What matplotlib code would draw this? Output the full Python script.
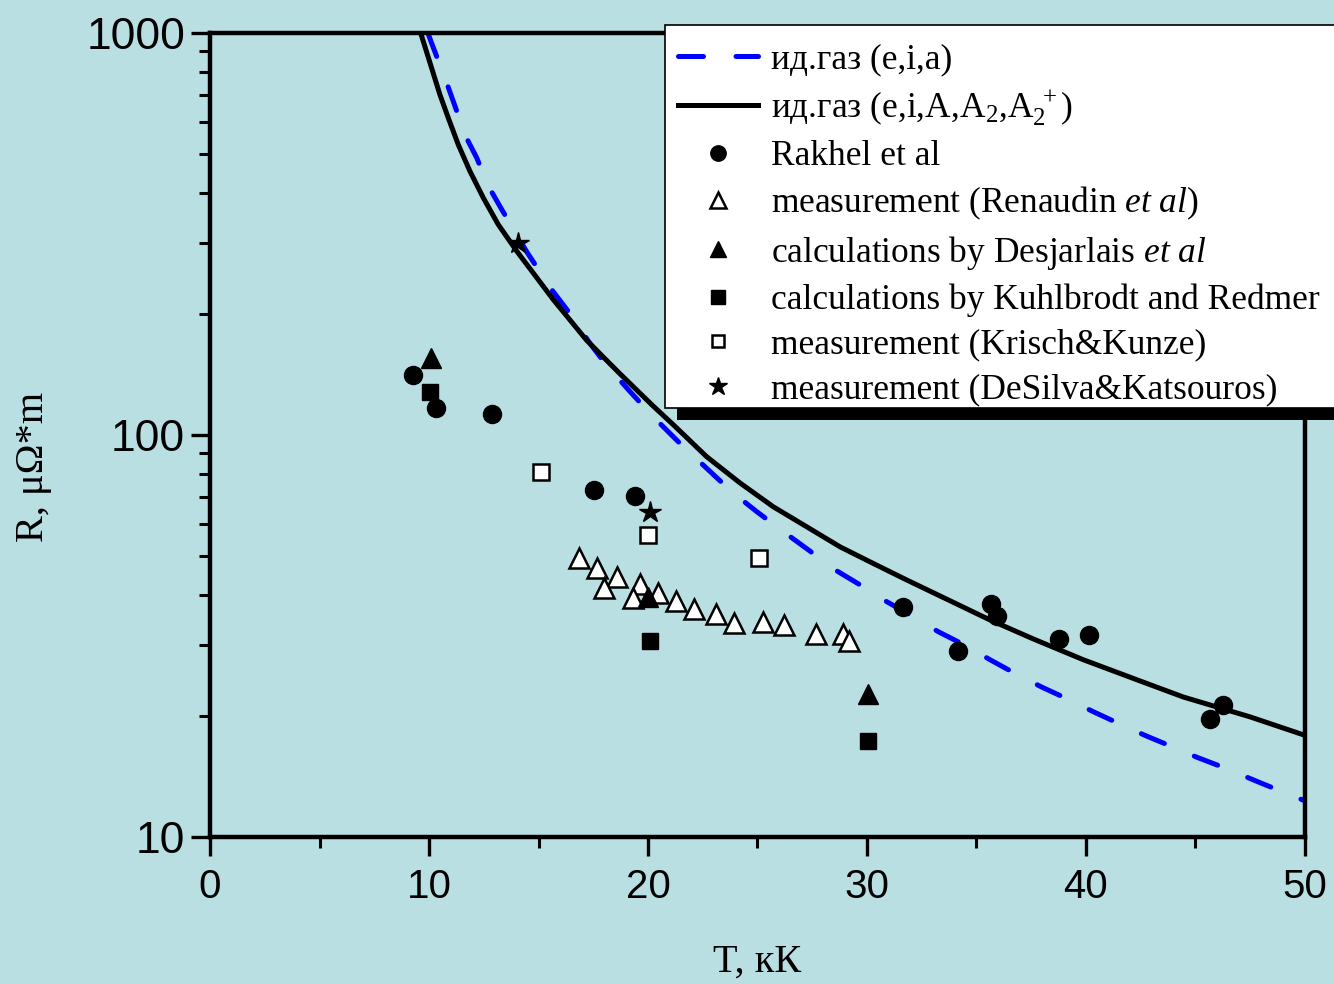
import matplotlib
matplotlib.use("Agg")
import matplotlib.pyplot as plt
from matplotlib.patches import Rectangle
from matplotlib.ticker import MultipleLocator, LogLocator, NullFormatter, FixedLocator, FixedFormatter
from matplotlib import font_manager

BG = '#badfe3'

# ---------------- data ----------------
# ideal gas (e,i,a) - dashed blue
T_gas1 = [9.95, 10.09, 10.81, 11.19, 11.64, 12.18, 12.71, 13.32, 14.49, 15.6, 16.36,
          17.35, 18.11, 19.25, 20.24, 21.46, 22.6, 23.82, 24.96, 26.18, 27.32, 28.54,
          29.68, 30.9, 32.12, 33.26, 34.47, 35.62, 36.83, 37.98, 39.19, 40.33, 41.55,
          42.69, 43.9, 45.05, 46.27, 48.02, 50.0]
R_gas1 = [1000, 953, 751, 657, 558, 489, 416, 364, 284, 230, 203,
          169, 149, 127, 111, 95.3, 83.4, 72.3, 64.5, 57.5, 51.8, 46.2,
          42.4, 38.5, 35.3, 32.4, 30.0, 27.6, 25.4, 23.6, 22.0, 20.5, 19.1,
          17.9, 16.8, 15.8, 14.9, 13.6, 12.3]
# ideal gas (e,i,A,A2,A2+) - solid black
T_gas2 = [9.62, 10.12, 10.50, 10.88, 11.34, 11.87, 12.48, 13.16, 14.0, 15.68, 17.2,
          18.72, 20.24, 21.16, 22.68, 24.2, 25.72, 27.25, 28.77, 30.29, 31.81, 33.79,
          35.6, 37.59, 39.88, 42.16, 44.44, 47.49, 50.0]
R_gas2 = [1000, 818, 702, 615, 527, 453, 389, 334, 287, 217, 172,
          142, 118, 106, 88.3, 76.0, 66.3, 59.1, 52.7, 47.9, 43.6, 38.7,
          34.7, 31.1, 27.6, 24.8, 22.3, 19.9, 17.9]

# Rakhel et al
T_rakhel = [9.27, 10.32, 12.88, 17.53, 19.41, 31.66, 34.17, 35.65, 35.95, 38.78, 40.15, 46.27, 45.66]
R_rakhel = [141, 116.7, 112.8, 73, 70.5, 37.3, 29.0, 38.0, 35.5, 31.0, 31.8, 21.3, 19.7]

# Renaudin et al (measurement)
T_renaudin = [16.86, 17.66, 18.57, 17.99, 19.63, 19.33, 20.44, 21.28, 22.12, 23.09,
              23.94, 25.27, 26.23, 27.66, 28.89, 29.19]
R_renaudin = [49.4, 46.6, 44.4, 41.7, 42.5, 39.4, 40.5, 38.7, 37.0, 35.8,
              34.0, 34.3, 33.7, 31.9, 31.9, 30.7]

# Desjarlais et al (calculations)
T_desj = [10.1, 20.0, 30.05]
R_desj = [155.5, 39.6, 22.7]

# Kuhlbrodt and Redmer (calculations)
T_kuhl = [10.05, 20.1, 30.05]
R_kuhl = [128, 30.7, 17.3]

# Krisch & Kunze (measurement)
T_krisch = [15.1, 20.0, 25.07]
R_krisch = [80.9, 56.4, 49.4]

# DeSilva & Katsouros (measurement)
T_desilva = [14.06, 20.1]
R_desilva = [300, 64.3]

x_ticks = [0, 10, 20, 30, 40, 50]
y_ticks = [10, 100, 1000]
y_ticklabels = ['10', '100', '1000']

labels = ['ид.газ (e,i,a)',
          'ид.газ (e,i,A,A$_2$,A$_2^{\\ +}$)',
          'Rakhel et al',
          'measurement (Renaudin $\\mathit{et\\ al}$)',
          'calculations by Desjarlais $\\mathit{et\\ al}$',
          'calculations by Kuhlbrodt and Redmer',
          'measurement (Krisch&Kunze)',
          'measurement (DeSilva&Katsouros)']

# ---------------- style ----------------
plt.rcParams['mathtext.fontset'] = 'custom'
plt.rcParams['mathtext.rm'] = 'Liberation Serif'
plt.rcParams['mathtext.it'] = 'Liberation Serif:italic'
plt.rcParams['mathtext.bf'] = 'Liberation Serif:bold'

names = {f.name for f in font_manager.fontManager.ttflist}
xfont = 'Liberation Sans Narrow' if 'Liberation Sans Narrow' in names else 'Liberation Sans'
xsize = 32 if xfont == 'Liberation Sans Narrow' else 29

W, H = 1334, 984
fig = plt.figure(figsize=(W / 100, H / 100), dpi=100, facecolor=BG)
ax = fig.add_axes([210 / W, 147 / H, 1095 / W, 804 / H])
ax.set_facecolor(BG)

ax.plot(T_gas1, R_gas1, color='#0000ff', lw=3.6, dashes=(5, 6.5),
        dash_capstyle='round', zorder=2)
ax.plot(T_gas2, R_gas2, color='black', lw=3.6, zorder=2)

ax.plot(T_rakhel, R_rakhel, 'o', ms=13, color='black', ls='none', zorder=3)
ax.plot(T_renaudin, R_renaudin, '^', ms=14, mfc='white', mec='black', mew=1.8, ls='none', zorder=3)
ax.plot(T_desj, R_desj, '^', ms=14, color='black', ls='none', zorder=4)
ax.plot(T_kuhl, R_kuhl, 's', ms=11.5, color='black', ls='none', zorder=3)
ax.plot(T_krisch, R_krisch, 's', ms=11, mfc='white', mec='black', mew=1.8, ls='none', zorder=3)
ax.plot(T_desilva, R_desilva, '*', ms=16, color='black', ls='none', zorder=4)

ax.set_yscale('log')
ax.set_xlim(0, 50)
ax.set_ylim(10, 1000)
ax.xaxis.set_major_locator(FixedLocator(x_ticks))
ax.xaxis.set_minor_locator(MultipleLocator(5))
ax.yaxis.set_major_locator(FixedLocator(y_ticks))
ax.yaxis.set_major_formatter(FixedFormatter(y_ticklabels))
ax.yaxis.set_minor_locator(LogLocator(base=10, subs=[2, 3, 4, 5, 6, 7, 8, 9]))
ax.yaxis.set_minor_formatter(NullFormatter())

for sp in ax.spines.values():
    sp.set_linewidth(3.2)
    sp.set_color('black')

ax.tick_params(which='major', direction='out', length=14, width=2.4, top=False, right=False)
ax.tick_params(which='minor', direction='out', length=8, width=2.2, top=False, right=False)
ax.tick_params(axis='y', which='major', pad=4)
ax.tick_params(axis='x', which='major', pad=8)
for lab in ax.get_yticklabels():
    lab.set_family('Liberation Sans')
    lab.set_fontsize(32)
for lab in ax.get_xticklabels():
    lab.set_family(xfont)
    lab.set_fontsize(xsize)

fig.text(757 / W, 1 - 962 / H, 'T, кК', family='Liberation Serif', fontsize=29,
         ha='center', va='center')
fig.text(33 / W, 1 - 467 / H, 'R, μΩ*m', family='Liberation Serif', fontsize=29,
         ha='center', va='center', rotation=90)

# legend box with shadow
shadow = Rectangle((677 / W, 1 - 420 / H), (W + 20 - 677) / W, (420 - 37) / H,
                   transform=fig.transFigure, facecolor='black', edgecolor='none', zorder=1.5)
box = Rectangle((665 / W, 1 - 408 / H), (W + 20 - 665) / W, (408 - 25) / H,
                transform=fig.transFigure, facecolor='white', edgecolor='black', lw=1.2, zorder=1.6)
fig.add_artist(shadow)
fig.add_artist(box)

handles = ax.get_lines()
leg = fig.legend(handles, labels, loc='upper left', bbox_to_anchor=(678 / W, 1 - 43 / H),
                 bbox_transform=fig.transFigure, frameon=False,
                 prop={'family': 'Liberation Serif', 'size': 25.5},
                 handlelength=2.26, handletextpad=0.37, labelspacing=0.33,
                 borderpad=0, borderaxespad=0, markerscale=0.85)
leg.set_zorder(5)

fig.savefig('out.png', dpi=100, facecolor=BG)
